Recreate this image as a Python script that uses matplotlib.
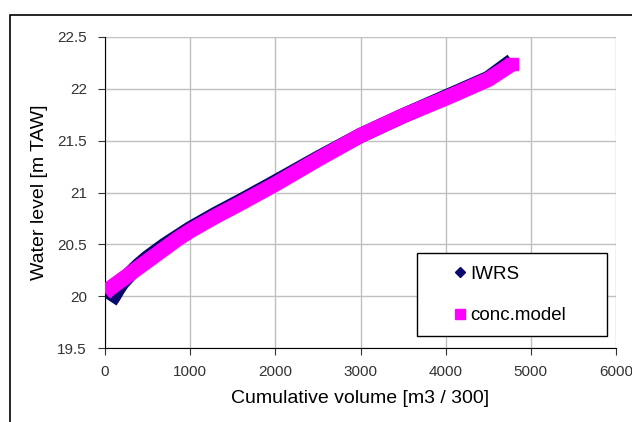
import matplotlib.pyplot as plt
from matplotlib.lines import Line2D
from matplotlib.patches import Rectangle

plt.rcParams['font.family'] = ['Liberation Sans', 'DejaVu Sans']

# IWRS measurements
iwrs_x = [60, 100, 150, 200, 300, 400, 500, 600, 700, 850, 1000, 1300, 1600,
          2000, 2500, 3000, 3500, 4000, 4500, 4780]
iwrs_y = [19.95, 20.0, 20.07, 20.13, 20.22, 20.3, 20.37, 20.43, 20.49, 20.57,
          20.65, 20.79, 20.92, 21.1, 21.33, 21.55, 21.74, 21.92, 22.1, 22.27]

# conceptual model
model_x = [0, 50, 100, 200, 300, 400, 500, 600, 700, 850, 1000, 1300, 1600,
           2000, 2500, 3000, 3500, 4000, 4500, 4780]
model_y = [20.03, 20.07, 20.1, 20.16, 20.22, 20.28, 20.34, 20.4, 20.46, 20.55,
           20.63, 20.77, 20.9, 21.08, 21.32, 21.55, 21.74, 21.91, 22.09, 22.24]

navy = '#0a0a6e'
pink = '#ff00ff'

fig = plt.figure(figsize=(6.32, 4.22), dpi=100)
fig.patches.append(Rectangle((10 / 632, -0.01), 0.99, 1 - 15 / 422 + 0.01,
                             transform=fig.transFigure, fill=False,
                             edgecolor='black', linewidth=1.2))

ax = fig.add_axes([105 / 632, 1 - 348 / 422, (616 - 105) / 632, (348 - 37) / 422])

ax.plot(iwrs_x, iwrs_y, color=navy, linewidth=11, solid_capstyle='butt',
        solid_joinstyle='round', zorder=3)
ax.plot(model_x, model_y, color=pink, linewidth=11, solid_capstyle='butt',
        solid_joinstyle='round', zorder=4)
ax.plot(model_x[-1:], model_y[-1:], linestyle='none', marker='s',
        markersize=8, color=pink, zorder=4)

ax.set_xlim(0, 6000)
ax.set_ylim(19.5, 22.5)
ax.set_xticks(range(0, 6001, 1000))
ax.set_yticks([19.5, 20, 20.5, 21, 21.5, 22, 22.5])
ax.set_yticklabels(['19.5', '20', '20.5', '21', '21.5', '22', '22.5'])
ax.grid(True, color='#c0c0c0', linewidth=1)
ax.set_axisbelow(True)
for side in ['top', 'right']:
    ax.spines[side].set_visible(False)
ax.tick_params(direction='out', length=5, labelsize=11, colors='#333333')
ax.tick_params(axis='x', pad=7)
ax.tick_params(axis='y', pad=8)

ax.set_xlabel('Cumulative volume [m3 / 300]', fontsize=14, labelpad=8)
ax.set_ylabel('Water level [m TAW]', fontsize=14, labelpad=7)

# legend box drawn separately so the entries can sit off-centre like the original
ax.add_patch(Rectangle((417 / 632, 1 - 336 / 422), 190 / 632, 83 / 422,
                       transform=fig.transFigure, facecolor='white',
                       edgecolor='black', linewidth=1, zorder=5, clip_on=False))
handles = [Line2D([], [], linestyle='none', marker='D', markersize=5, color=navy),
           Line2D([], [], linestyle='none', marker='s', markersize=6.5, color=pink)]
leg = ax.legend(handles, ['IWRS', 'conc.model'], loc='center left',
                bbox_to_anchor=(453 / 632, 1 - 295 / 422),
                bbox_transform=fig.transFigure, fontsize=13.5, frameon=False,
                handlelength=0.7, handletextpad=0.2, labelspacing=1.3,
                borderpad=0, borderaxespad=0)
leg.set_zorder(6)

fig.savefig('out.png', dpi=100)
